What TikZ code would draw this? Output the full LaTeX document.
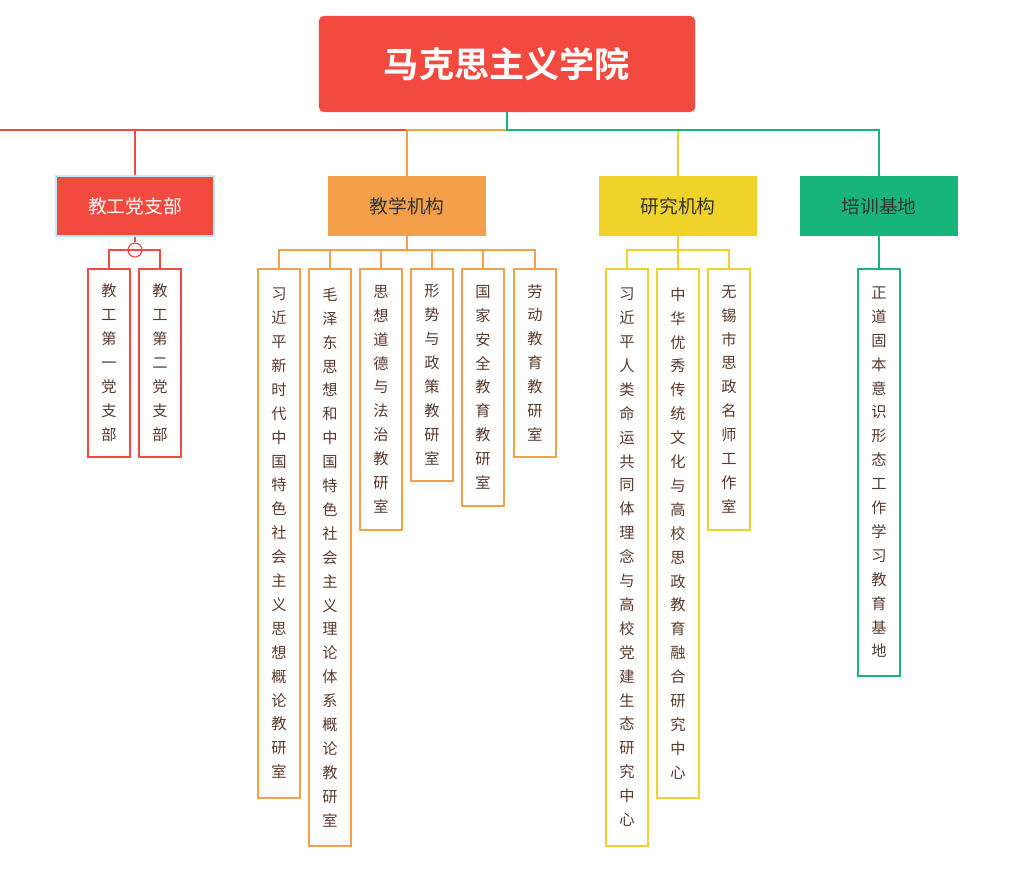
\documentclass[tikz,border=0pt]{standalone}
\usepackage{fontspec}
\setmainfont{Noto Sans CJK SC}[BoldFont={Noto Sans CJK SC Bold}]
\usetikzlibrary{positioning}

\definecolor{rootred}{HTML}{F24A3F}
\definecolor{teachorange}{HTML}{F4A04A}
\definecolor{studyyellow}{HTML}{F0D32A}
\definecolor{basegreen}{HTML}{17B57B}
\definecolor{leaftext}{HTML}{5A3A2A}

% vertical text: one character per line
\def\vt#1{\vtfirst#1\relax}
\def\vtfirst#1{#1\vtrest}
\def\vtrest#1{\ifx\relax#1\else\\#1\expandafter\vtrest\fi}

\begin{document}
\begin{tikzpicture}[
    x=0.03cm, y=-0.03cm,
    root/.style={rectangle, rounded corners=4pt, fill=rootred, text=white, minimum width=11.28cm, minimum height=2.88cm, font=\fontsize{30}{34}\selectfont\bfseries},
    cat/.style={rectangle, minimum width=4.74cm, minimum height=1.8cm, font=\fontsize{16}{20}\selectfont, text=black!80},
    leaf/.style={rectangle, draw, fill=white, line width=1.3pt, anchor=north, minimum width=1.26cm, inner sep=0pt, align=center, text=leaftext, font=\fontsize{13}{20.4}\selectfont},
    link/.style={line width=1.5pt},
]

%Background
\useasboundingbox (0,0) rectangle (1024,870);

% Root
\node[root] (school) at (507,64) {马克思主义学院};

% Categories
\node[cat, fill=rootred, text=white, draw=cyan!25, line width=2pt] (party) at (135,206) {教工党支部};
\node[cat, fill=teachorange] (teach) at (407,206) {教学机构};
\node[cat, fill=studyyellow] (study) at (678,206) {研究机构};
\node[cat, fill=basegreen] (train) at (879,206) {培训基地};

% Party branch
\node[leaf, draw=rootred, minimum height=5.64cm] (party_1) at (109,268) {\vt{教工第一党支部}};
\node[leaf, draw=rootred, minimum height=5.64cm] (party_2) at (160,268) {\vt{教工第二党支部}};

% Teaching branch
\node[leaf, draw=teachorange, minimum height=15.87cm] (teach_1) at (279,268) {\vt{习近平新时代中国特色社会主义思想概论教研室}};
\node[leaf, draw=teachorange, minimum height=17.31cm] (teach_2) at (330,268) {\vt{毛泽东思想和中国特色社会主义理论体系概论教研室}};
\node[leaf, draw=teachorange, minimum height=7.83cm] (teach_3) at (381,268) {\vt{思想道德与法治教研室}};
\node[leaf, draw=teachorange, minimum height=6.36cm] (teach_4) at (432,268) {\vt{形势与政策教研室}};
\node[leaf, draw=teachorange, minimum height=7.11cm] (teach_5) at (483,268) {\vt{国家安全教育教研室}};
\node[leaf, draw=teachorange, minimum height=5.64cm] (teach_6) at (535,268) {\vt{劳动教育教研室}};

% Research branch
\node[leaf, draw=studyyellow, minimum height=17.31cm] (study_1) at (627,268) {\vt{习近平人类命运共同体理念与高校党建生态研究中心}};
\node[leaf, draw=studyyellow, minimum height=15.87cm] (study_2) at (678,268) {\vt{中华优秀传统文化与高校思政教育融合研究中心}};
\node[leaf, draw=studyyellow, minimum height=7.83cm] (study_3) at (729,268) {\vt{无锡市思政名师工作室}};

% Training branch
\node[leaf, draw=basegreen, minimum height=12.21cm] (train_1) at (879,268) {\vt{正道固本意识形态工作学习教育基地}};

% Root links
\draw[link, rootred] (school.south) |- (0,130) -| (party.north);
\draw[link, studyyellow] (school.south) ++(0,18) -| (study.north);
\draw[link, teachorange] (school.south) ++(0,18) -| (teach.north);
\draw[link, basegreen] (school.south) -- ++(0,18) -| (train.north);

% Party links
\node[circle, draw=rootred, fill=white, line width=1pt, minimum size=0.42cm, inner sep=0pt] (fold) at (135,250) {};
\draw[link, rootred] (party.south) -- (fold.north);
\draw[rootred, line width=1pt] (fold.west) -- (fold.east);
\draw[link, rootred] (fold.west) -| (party_1.north);
\draw[link, rootred] (fold.east) -| (party_2.north);

% Teaching links
\draw[link, teachorange] (teach.south) -- ++(0,14) -| (teach_1.north);
\draw[link, teachorange] (teach.south) ++(0,14) -| (teach_6.north);
\foreach \leaf in {teach_2, teach_3, teach_4, teach_5}
    \draw[link, teachorange] (teach.south) ++(0,14) -| (\leaf.north);

% Research links
\draw[link, studyyellow] (study.south) -- ++(0,14) -| (study_1.north);
\draw[link, studyyellow] (study.south) ++(0,14) -| (study_3.north);
\draw[link, studyyellow] (study.south) -- (study_2.north);

% Training link
\draw[link, basegreen] (train.south) -- (train_1.north);

\end{tikzpicture}
\end{document}
